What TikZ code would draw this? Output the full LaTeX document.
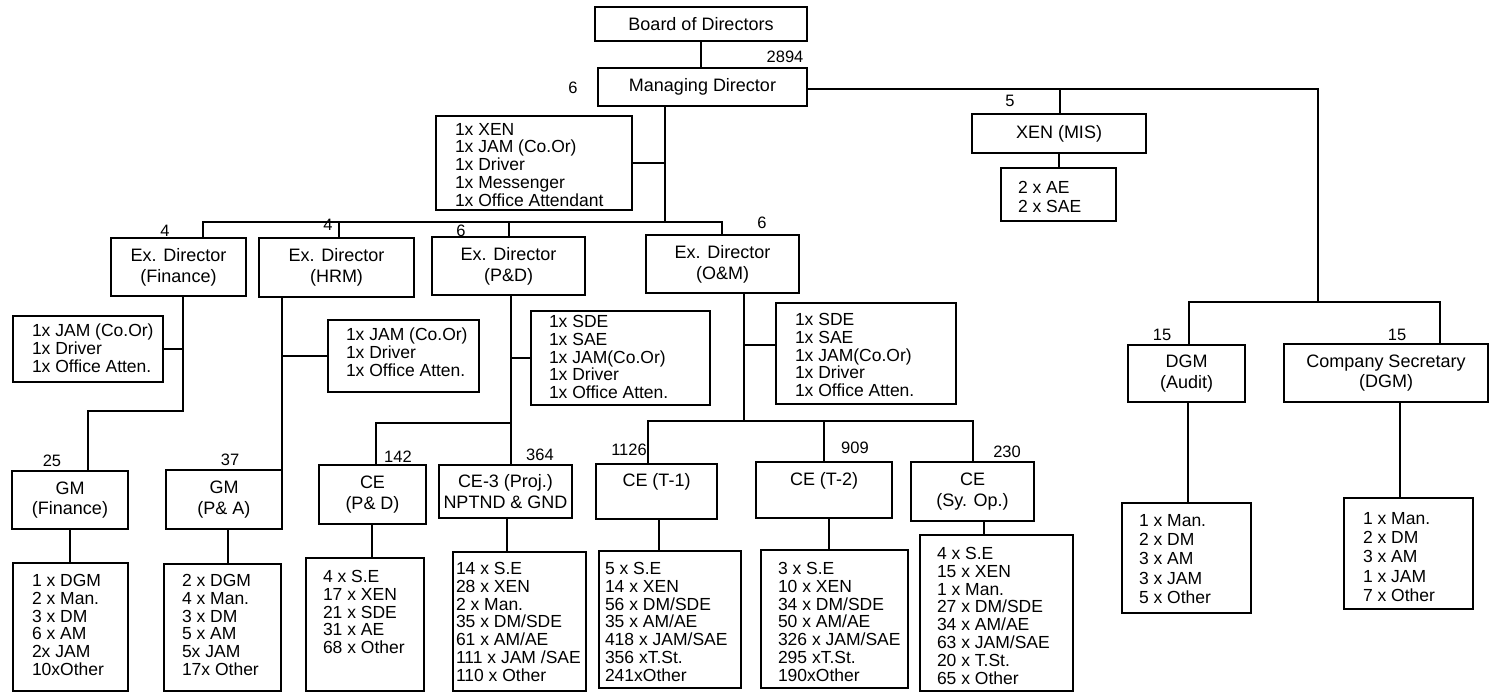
\documentclass[tikz,border=0pt]{standalone}
\usepackage{fontspec}
\setmainfont{Liberation Sans}
\usetikzlibrary{fit,calc}
\newcommand\mkbox[5]{\path (#2,#3) coordinate (#1-a) (#4,#5) coordinate (#1-b); \node[box, fit=(#1-a)(#1-b)] (#1) {};}
\begin{document}
\begin{tikzpicture}[x=1pt,y=-1pt, line width=1.6pt,
  box/.style={draw, inner sep=0pt, line width=1.6pt},
  ttl/.style={align=center, font=\fontsize{18}{20.7}\selectfont, inner sep=0pt},
  lst/.style={align=left, anchor=north west, font=\fontsize{17.5}{17.9}\selectfont, inner sep=0pt},
  lstw/.style={lst, font=\fontsize{17.5}{19.4}\selectfont},
  num/.style={font=\fontsize{16.5}{18}\selectfont, inner sep=0pt},
  conn/.style={draw, line width=1.6pt}]
\useasboundingbox (0,0) rectangle (1490,693);
% boxes
\mkbox{bod}{595}{7}{807}{41}
\mkbox{md}{598}{68}{807}{106}
\mkbox{mdstaff}{436}{116}{632}{210}
\mkbox{xen}{972}{114}{1146}{153}
\mkbox{xensub}{1001}{168}{1116}{221}
\mkbox{edfin}{111}{238}{246}{296}
\mkbox{edhrm}{259}{238}{414}{297}
\mkbox{edpd}{432}{237}{585}{295}
\mkbox{edom}{646}{235}{799}{293}
\mkbox{finstaff}{13}{316}{163}{382}
\mkbox{hrmstaff}{328}{320}{479}{392}
\mkbox{pdstaff}{531}{311}{710}{405}
\mkbox{omstaff}{776}{303}{956}{404}
\mkbox{gmfin}{12}{471}{128}{529}
\mkbox{gmpa}{166}{470}{282}{529}
\mkbox{cepd}{319}{465}{426}{524}
\mkbox{ce3}{439}{465}{572}{518}
\mkbox{cet1}{596}{464}{717}{519}
\mkbox{cet2}{756}{462}{892}{518}
\mkbox{cesy}{911}{462}{1034}{521}
\mkbox{dgm}{1128}{345}{1245}{402}
\mkbox{cs}{1284}{344}{1488}{402}
\mkbox{gmfinsub}{13}{563}{128}{691}
\mkbox{gmpasub}{164}{564}{281}{691}
\mkbox{cepdsub}{306}{558}{424}{691}
\mkbox{ce3sub}{453}{552}{586}{691}
\mkbox{cet1sub}{599}{551}{741}{688}
\mkbox{cet2sub}{761}{550}{908}{688}
\mkbox{cesysub}{920}{535}{1073}{691}
\mkbox{dgmsub}{1122}{503}{1251}{613}
\mkbox{cssub}{1344}{498}{1473}{609}
% titles
\node[ttl] (tbod) at (bod.center) {Board of Directors};
\node[ttl] (tmd) at (md.center) {Managing Director};
\node[ttl] (txen) at (xen.center) {XEN (MIS)};
\node[ttl] (tedfin) at (edfin.center) {Ex. Director\\(Finance)};
\node[ttl] (tedhrm) at (edhrm.center) {Ex. Director\\(HRM)};
\node[ttl] (tedpd) at (edpd.center) {Ex. Director\\(P\&D)};
\node[ttl] (tedom) at (edom.center) {Ex. Director\\(O\&M)};
\node[ttl] (tgmfin) at (gmfin.center) {GM\\(Finance)};
\node[ttl] (tgmpa) at (gmpa.center) {GM\\(P\& A)};
\node[ttl] (tcepd) at (cepd.center) {CE\\(P\& D)};
\node[ttl] (tce3) at (ce3.center) {CE-3 (Proj.)\\NPTND \& GND};
\node[ttl] (tcet1) at ($(cet1.center)+(0,-9.5)$) {CE (T-1)};
\node[ttl] (tcet2) at ($(cet2.center)+(0,-9.5)$) {CE (T-2)};
\node[ttl] (tcesy) at (cesy.center) {CE\\(Sy. Op.)};
\node[ttl] (tdgm) at (dgm.center) {DGM\\(Audit)};
\node[ttl] (tcs) at (cs.center) {Company Secretary\\(DGM)};
% lists
\node[lst] (lmdstaff) at ($(mdstaff.north west)+(19,7)$) {1x XEN\\1x JAM (Co.Or)\\1x Driver\\1x Messenger\\1x Office Attendant};
\node[lstw] (lxensub) at ($(xensub.north west)+(17,13)$) {2 x AE\\2 x SAE};
\node[lst] (lfinstaff) at ($(finstaff.north west)+(19,8)$) {1x JAM (Co.Or)\\1x Driver\\1x Office Atten.};
\node[lst] (lhrmstaff) at ($(hrmstaff.north west)+(18,8)$) {1x JAM (Co.Or)\\1x Driver\\1x Office Atten.};
\node[lst] (lpdstaff) at ($(pdstaff.north west)+(18,4)$) {1x SDE\\1x SAE\\1x JAM(Co.Or)\\1x Driver\\1x Office Atten.};
\node[lst] (lomstaff) at ($(omstaff.north west)+(19,10)$) {1x SDE\\1x SAE\\1x JAM(Co.Or)\\1x Driver\\1x Office Atten.};
\node[lst] (lgmfinsub) at ($(gmfinsub.north west)+(19,11)$) {1 x DGM\\2 x Man.\\3 x DM\\6 x AM\\2x JAM\\10xOther};
\node[lst] (lgmpasub) at ($(gmpasub.north west)+(18,10)$) {2 x DGM\\4 x Man.\\3 x DM\\5 x AM\\5x JAM\\17x Other};
\node[lst] (lcepdsub) at ($(cepdsub.north west)+(17,12)$) {4 x S.E\\17 x XEN\\21 x SDE\\31 x AE\\68 x Other};
\node[lst] (lce3sub) at ($(ce3sub.north west)+(3,10)$) {14 x S.E\\28 x XEN\\2 x Man.\\35 x DM/SDE\\61 x AM/AE\\111 x JAM /SAE\\110 x Other};
\node[lst] (lcet1sub) at ($(cet1sub.north west)+(6,11)$) {5 x S.E\\14 x XEN\\56 x DM/SDE\\35 x AM/AE\\418 x JAM/SAE\\356 xT.St.\\241xOther};
\node[lst] (lcet2sub) at ($(cet2sub.north west)+(17,12)$) {3 x S.E\\10 x XEN\\34 x DM/SDE\\50 x AM/AE\\326 x JAM/SAE\\295 xT.St.\\190xOther};
\node[lst] (lcesysub) at ($(cesysub.north west)+(17,12)$) {4 x S.E\\15 x XEN\\1 x Man.\\27 x DM/SDE\\34 x AM/AE\\63 x JAM/SAE\\20 x T.St.\\65 x Other};
\node[lstw] (ldgmsub) at ($(dgmsub.north west)+(17,11)$) {1 x Man.\\2 x DM\\3 x AM\\3 x JAM\\5 x Other};
\node[lstw] (lcssub) at ($(cssub.north west)+(19,14)$) {1 x Man.\\2 x DM\\3 x AM\\1 x JAM\\7 x Other};
% numbers
\node[num] (n2894) at (785,57) {2894};
\node[num] (nmd) at (573,88) {6};
\node[num] (nxen) at (1010,101) {5};
\node[num] (nfin) at (165,231) {4};
\node[num] (nhrm) at (328,225) {4};
\node[num] (npd) at (461,231) {6};
\node[num] (nom) at (762,223) {6};
\node[num] (ngmfin) at (52,461) {25};
\node[num] (ngmpa) at (230,460) {37};
\node[num] (ncepd) at (398,457) {142};
\node[num] (nce3) at (540,455) {364};
\node[num] (ncet1) at (629,450) {1126};
\node[num] (ncet2) at (855,448) {909};
\node[num] (ncesy) at (1007,452) {230};
\node[num] (ndgm) at (1162,335) {15};
\node[num] (ncs) at (1397,335) {15};
% junctions
\coordinate (edbus) at (665,222);
\coordinate (edL) at (203,222);
\coordinate (edR) at (722,222);
\coordinate (xhrm) at (339,222);
\coordinate (xpd) at (509,222);
\coordinate (f1) at (183,411);
\coordinate (f2) at (88,411);
\coordinate (h1) at (282,354);
\coordinate (p1) at (511,423);
\coordinate (p2) at (376,423);
\coordinate (o1) at (744,421);
\coordinate (o2) at (744,345);
\coordinate (cL) at (648,421);
\coordinate (cR) at (973,421);
\coordinate (cT2) at (824,421);
\coordinate (r1) at (1318,89);
\coordinate (r2) at (1318,302);
\coordinate (rL) at (1189,302);
\coordinate (rR) at (1440,302);
\coordinate (xm) at (1060,89);
\coordinate (sgmpa) at (228,0);
\coordinate (scepd) at (372,0);
\coordinate (sce3) at (507,0);
\coordinate (scet1) at (659,0);
\coordinate (scet2) at (829,0);
\coordinate (scesy) at (984,0);
\coordinate (sdgm) at (1188,0);
\coordinate (scs) at (1400,0);
% connectors
\draw[conn] (bod.south) -- (bod.south |- md.north);
\draw[conn] (md.south -| edbus) -- (edbus);
\draw[conn] (mdstaff.east) -- (mdstaff.east -| edbus);
\draw[conn] (edL |- edfin.north) -- (edL) -- (edR) -- (edR |- edom.north);
\draw[conn] (xhrm) -- (xhrm |- edhrm.north);
\draw[conn] (xpd) -- (xpd |- edpd.north);
\draw[conn] (edfin.south -| f1) -- (f1) -- (f2) -- (f2 |- gmfin.north);
\draw[conn] (finstaff.east) -- (finstaff.east -| f1);
\draw[conn] (edhrm.south -| h1) -- (h1 |- gmpa.north);
\draw[conn] (hrmstaff.west) -- (hrmstaff.west -| h1);
\draw[conn] (edpd.south -| p1) -- (p1 |- ce3.north);
\draw[conn] (p1) -- (p2) -- (p2 |- cepd.north);
\draw[conn] (pdstaff.west) -- (pdstaff.west -| p1);
\draw[conn] (edom.south -| o1) -- (o1);
\draw[conn] (o2) -- (o2 -| omstaff.west);
\draw[conn] (cL |- cet1.north) -- (cL) -- (cR) -- (cR |- cesy.north);
\draw[conn] (cT2) -- (cT2 |- cet2.north);
\draw[conn] (r1 -| md.east) -- (r1) -- (r2);
\draw[conn] (rL |- dgm.north) -- (rL) -- (rR) -- (rR |- cs.north);
\draw[conn] (xm) -- (xm |- xen.north);
\draw[conn] (xen.south) -- (xen.south |- xensub.north);
\draw[conn] (gmfin.south) -- (gmfin.south |- gmfinsub.north);
\draw[conn] (sgmpa |- gmpa.south) -- (sgmpa |- gmpasub.north);
\draw[conn] (scepd |- cepd.south) -- (scepd |- cepdsub.north);
\draw[conn] (sce3 |- ce3.south) -- (sce3 |- ce3sub.north);
\draw[conn] (scet1 |- cet1.south) -- (scet1 |- cet1sub.north);
\draw[conn] (scet2 |- cet2.south) -- (scet2 |- cet2sub.north);
\draw[conn] (scesy |- cesy.south) -- (scesy |- cesysub.north);
\draw[conn] (sdgm |- dgm.south) -- (sdgm |- dgmsub.north);
\draw[conn] (scs |- cs.south) -- (scs |- cssub.north);
\end{tikzpicture}
\end{document}
